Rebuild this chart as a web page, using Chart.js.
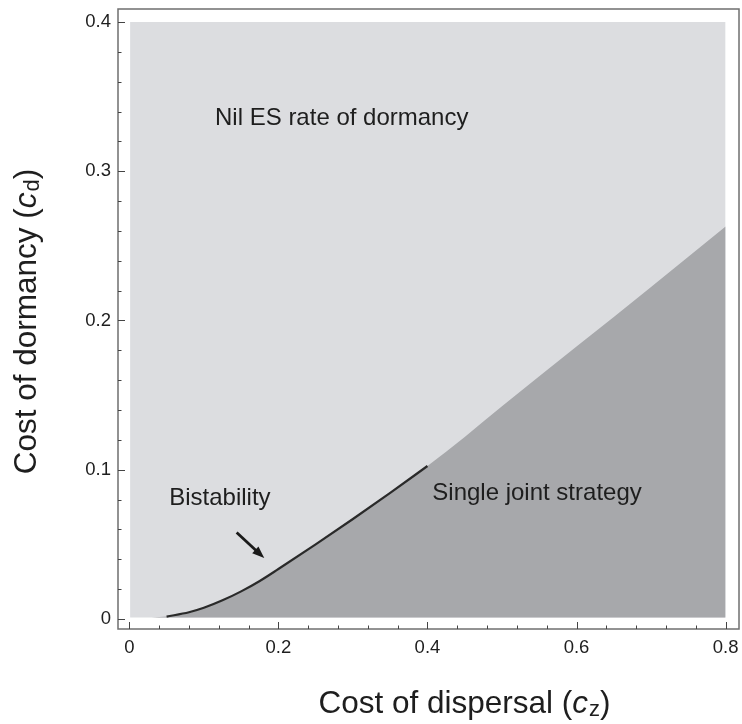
<!DOCTYPE html>
<html>
<head>
<meta charset="utf-8">
<script src="https://cdn.jsdelivr.net/npm/chart.js@4/dist/chart.umd.min.js"></script>
<style>
  html, body { margin: 0; padding: 0; background: #fff; }
  #wrap { width: 742px; height: 724px; }
</style>
</head>
<body>
<div id="wrap"><canvas id="chart" width="742" height="724"></canvas></div>
<script>
// ==== Data ====
const xTicks = [0, 0.2, 0.4, 0.6, 0.8];
const yTicks = [0, 0.1, 0.2, 0.3, 0.4];
const xMinorStep = 0.04;
const yMinorStep = 0.02;

// region of the parameter plane that was computed
const regionX = [0.001, 0.8];
const regionTop = 0.4;
const regionBottom = 0.001;

// boundary between "nil dormancy" and "single joint strategy"
const boundaryX = [0.030, 0.05, 0.08, 0.10, 0.125, 0.15, 0.175, 0.2, 0.25, 0.3, 0.35, 0.40, 0.45, 0.5, 0.6, 0.7, 0.8];
const boundaryY = [0.001, 0.0016, 0.0045, 0.0075, 0.0125, 0.0185, 0.0255, 0.0335, 0.050, 0.067, 0.0845, 0.1025, 0.122, 0.1425, 0.1825, 0.2225, 0.263];

// thin bistability band along the boundary
const bistabFrom = 0.05;
const bistabTo = 0.41;

// text labels (x, y = baseline)
const labelText = ['Nil ES rate of dormancy', 'Bistability', 'Single joint strategy'];
const labelX = [0.285, 0.1215, 0.547];
const labelY = [0.331, 0.0764, 0.0797];

// arrow pointing at the bistability band
const arrowFrom = [0.144, 0.058];
const arrowTo = [0.181, 0.0408];

const xTitle = ['Cost of dispersal (', 'c', 'z', ')'];
const yTitle = ['Cost of dormancy (', 'c', 'd', ')'];

// ==== Colours / fonts ====
const lightGrey = '#dcdde0';
const darkGrey = '#a7a8ab';
const bandColor = '#2a2a2a';
const frameColor = '#6f6f6f';
const textColor = '#1e1e1e';
const FONT = '"Liberation Sans", Arial, Helvetica, sans-serif';

const boundary = boundaryX.map((x, i) => ({ x, y: boundaryY[i] }));
const band = boundary.filter(p => p.x >= bistabFrom && p.x <= bistabTo);

// ==== Overlay: frame, inward ticks, labels, arrow, axis titles ====
const overlay = {
  id: 'overlay',
  afterDraw(chart) {
    const { ctx, chartArea: a, scales: { x, y } } = chart;
    ctx.save();

    // frame
    ctx.strokeStyle = frameColor;
    ctx.lineWidth = 1.5;
    ctx.strokeRect(a.left, a.top, a.right - a.left, a.bottom - a.top);

    // ticks (pointing inward)
    ctx.strokeStyle = '#444';
    ctx.lineWidth = 1;
    ctx.beginPath();
    for (let v = 0; v <= 0.8 + 1e-9; v += xMinorStep) {
      const px = Math.round(x.getPixelForValue(v)) + 0.5;
      const major = xTicks.some(t => Math.abs(t - v) < 1e-6);
      ctx.moveTo(px, a.bottom);
      ctx.lineTo(px, a.bottom - (major ? 7 : 3.5));
    }
    for (let v = 0; v <= 0.4 + 1e-9; v += yMinorStep) {
      const py = Math.round(y.getPixelForValue(v)) + 0.5;
      const major = yTicks.some(t => Math.abs(t - v) < 1e-6);
      ctx.moveTo(a.left, py);
      ctx.lineTo(a.left + (major ? 7 : 3.5), py);
    }
    ctx.stroke();

    // region labels
    ctx.fillStyle = textColor;
    ctx.font = '24px ' + FONT;
    ctx.textAlign = 'center';
    ctx.textBaseline = 'alphabetic';
    labelText.forEach((t, i) => {
      ctx.fillText(t, x.getPixelForValue(labelX[i]), y.getPixelForValue(labelY[i]));
    });

    // arrow
    const x0 = x.getPixelForValue(arrowFrom[0]), y0 = y.getPixelForValue(arrowFrom[1]);
    const x1 = x.getPixelForValue(arrowTo[0]), y1 = y.getPixelForValue(arrowTo[1]);
    const ang = Math.atan2(y1 - y0, x1 - x0);
    const head = 13;
    ctx.strokeStyle = '#1a1a1a';
    ctx.fillStyle = '#1a1a1a';
    ctx.lineWidth = 2.8;
    ctx.beginPath();
    ctx.moveTo(x0, y0);
    ctx.lineTo(x1 - head * 0.8 * Math.cos(ang), y1 - head * 0.8 * Math.sin(ang));
    ctx.stroke();
    ctx.beginPath();
    ctx.moveTo(x1, y1);
    ctx.lineTo(x1 - head * Math.cos(ang - 0.36), y1 - head * Math.sin(ang - 0.36));
    ctx.lineTo(x1 - head * Math.cos(ang + 0.36), y1 - head * Math.sin(ang + 0.36));
    ctx.closePath();
    ctx.fill();

    // axis titles
    drawTitle(ctx, xTitle, 464, 713, 0);
    drawTitle(ctx, yTitle, 36, 322, -Math.PI / 2);

    ctx.restore();
  }
};

function drawTitle(ctx, parts, cx, baseY, rot) {
  const big = '31.5px ' + FONT, ital = 'italic 31.5px ' + FONT, small = '22px ' + FONT;
  const fonts = [big, ital, small, big];
  const shifts = [0, 0, 3, 0];
  let w = 0;
  const widths = parts.map((p, i) => { ctx.font = fonts[i]; const m = ctx.measureText(p).width; w += m; return m; });
  ctx.save();
  ctx.translate(cx, baseY);
  ctx.rotate(rot);
  ctx.fillStyle = textColor;
  ctx.textAlign = 'left';
  ctx.textBaseline = 'alphabetic';
  let pos = -w / 2;
  parts.forEach((p, i) => {
    ctx.font = fonts[i];
    ctx.fillText(p, pos, shifts[i]);
    pos += widths[i] + (i === 1 ? 1 : 0);
  });
  ctx.restore();
}

// ==== Chart ====
const ctx = document.getElementById('chart').getContext('2d');
const chart = new Chart(ctx, {
  type: 'line',
  data: {
    datasets: [
      {
        label: 'Nil ES rate of dormancy',
        data: regionX.map(x => ({ x, y: regionTop })),
        borderWidth: 0,
        backgroundColor: lightGrey,
        fill: { value: regionBottom },
        pointRadius: 0,
        order: 3
      },
      {
        label: 'Single joint strategy',
        data: boundary,
        borderWidth: 0,
        backgroundColor: darkGrey,
        fill: { value: regionBottom },
        pointRadius: 0,
        cubicInterpolationMode: 'monotone',
        order: 2
      },
      {
        label: 'Bistability',
        data: band,
        borderColor: bandColor,
        borderWidth: 2.2,
        fill: false,
        pointRadius: 0,
        cubicInterpolationMode: 'monotone',
        order: 1
      }
    ]
  },
  options: {
    responsive: false,
    animation: false,
    events: [],
    layout: { padding: { left: 0, top: 9, right: 3, bottom: 0 } },
    plugins: { legend: { display: false }, tooltip: { enabled: false } },
    scales: {
      x: {
        type: 'linear',
        min: -0.0152,
        max: 0.818,
        grid: { display: false, drawTicks: false },
        border: { display: false },
        afterBuildTicks: s => { s.ticks = xTicks.map(v => ({ value: v })); },
        afterFit: s => { s.height = 95; s.paddingLeft = 0; s.paddingRight = 0; },
        ticks: {
          autoSkip: false,
          maxRotation: 0,
          padding: 8,
          color: textColor,
          font: { family: FONT, size: 18.5 },
          callback: v => String(v)
        }
      },
      y: {
        type: 'linear',
        min: -0.0067,
        max: 0.4087,
        grid: { display: false, drawTicks: false },
        border: { display: false },
        afterBuildTicks: s => { s.ticks = yTicks.map(v => ({ value: v })); },
        afterFit: s => { s.width = 118; s.paddingTop = 0; s.paddingBottom = 0; },
        ticks: {
          autoSkip: false,
          padding: 7,
          color: textColor,
          font: { family: FONT, size: 18.5 },
          callback: v => String(v)
        }
      }
    }
  },
  plugins: [overlay]
});
</script>
</body>
</html>
